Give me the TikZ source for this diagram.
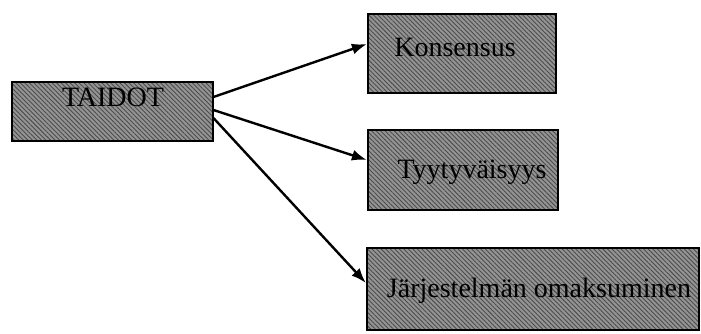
\documentclass[tikz,border=0pt]{standalone}
\usepackage{fontspec}
\setmainfont{Liberation Serif}
\usetikzlibrary{arrows.meta,patterns.meta}
\begin{document}
\begin{tikzpicture}[x=1pt,y=-1pt,
  shadebox/.style={draw=black,line width=2.2pt,rectangle,inner sep=0pt,
    preaction={fill=black!42},
    pattern={Lines[angle=-45,distance=3.2pt,line width=0.9pt]},pattern color=black!70},
  boxtext/.style={anchor=base,inner sep=0pt,font=\fontsize{28}{30}\selectfont},
  link/.style={line width=2.4pt,-{Latex[length=15pt,width=11pt]}}]
\useasboundingbox (0,0) rectangle (701,334);

% boxes
\node[shadebox,minimum width=201pt,minimum height=59pt] (taidot) at (112.5,111.5) {};
\node[shadebox,minimum width=188pt,minimum height=79pt] (kons) at (462,53.5) {};
\node[shadebox,minimum width=190pt,minimum height=80pt] (tyyt) at (463,170) {};
\node[shadebox,minimum width=332pt,minimum height=82pt] (jarj) at (533,289) {};

% labels
\node[boxtext] (t1) at (113,107) {TAIDOT};
\node[boxtext] (t2) at (455,57) {Konsensus};
\node[boxtext] (t3) at (472,178) {Tyytyväisyys};
\node[boxtext] (t4) at (539,297) {Järjestelmän omaksuminen};

% connectors
\draw[link] ([yshift=14.5pt]taidot.east) -- ([yshift=9.5pt]kons.west);
\draw[link] ([yshift=1.5pt]taidot.east) -- ([yshift=10pt]tyyt.west);
\draw[link] ([yshift=-6.5pt]taidot.east) -- ([yshift=6pt]jarj.west);
\end{tikzpicture}
\end{document}
